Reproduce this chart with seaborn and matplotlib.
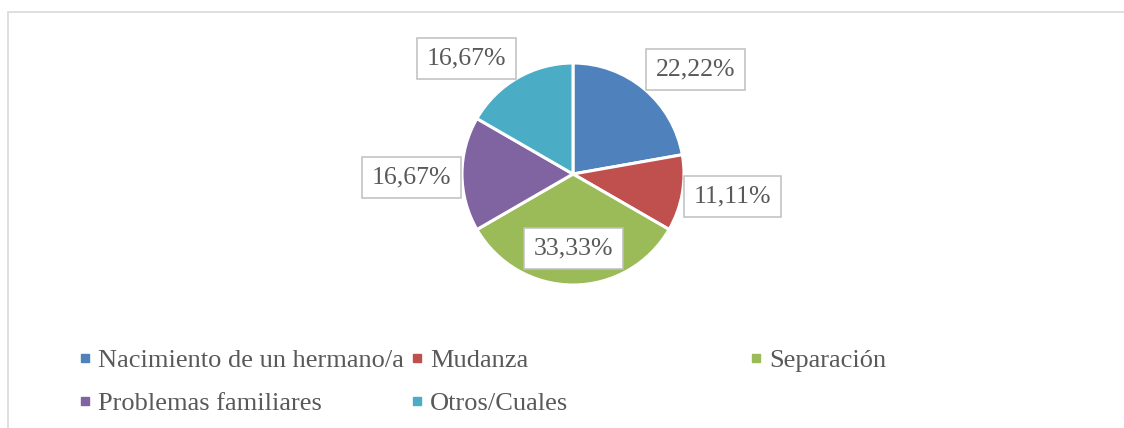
import numpy as np
import matplotlib
matplotlib.use("Agg")
import matplotlib.pyplot as plt
from matplotlib.lines import Line2D
from matplotlib.patches import Rectangle
import seaborn as sns

# data
categorias = ["Nacimiento de un hermano/a", "Mudanza", "Separación",
              "Problemas familiares", "Otros/Cuales"]
porcentajes = [22.22, 11.11, 33.33, 16.67, 16.67]
etiquetas = ["22,22%", "11,11%", "33,33%", "16,67%", "16,67%"]
colores = ["#4F81BD", "#C0504D", "#9BBB59", "#8064A2", "#4BACC6"]
ubicacion = ["out", "out", "in", "out", "out"]

sns.set_theme(style="white")
plt.rcParams["font.family"] = ["Liberation Serif", "DejaVu Serif"]
gris = "#595959"

W, H = 1124, 428
fig = plt.figure(figsize=(W / 100, H / 100), dpi=100)

# outer chart frame (cut off at right and bottom like the reference)
fig.add_artist(Rectangle((8 / W, -0.2), 1.2, (H - 12) / H + 0.2,
                         transform=fig.transFigure, fill=False,
                         edgecolor="#D9D9D9", linewidth=1.2))

# pie axes
cx, cy, r = 573, 174, 111
ax = fig.add_axes([(cx - r) / W, (H - cy - r) / H, 2 * r / W, 2 * r / H])
wedges, _ = ax.pie(porcentajes, colors=colores, startangle=90,
                   counterclock=False, radius=1,
                   wedgeprops=dict(edgecolor="white", linewidth=2.2))
ax.set_xlim(-1, 1)
ax.set_ylim(-1, 1)
ax.set_aspect("equal")
ax.axis("off")

bbox = dict(boxstyle="square,pad=0.38", facecolor="white",
            edgecolor="#BFBFBF", linewidth=1.1)
for w, txt, loc in zip(wedges, etiquetas, ubicacion):
    ang = np.deg2rad((w.theta1 + w.theta2) / 2)
    c, s = np.cos(ang), np.sin(ang)
    if loc == "in":
        ax.text(0.67 * c, 0.67 * s, txt, ha="center", va="center",
                fontsize=18.5, color=gris, bbox=bbox, clip_on=False)
        continue
    ha = "left" if c > 0.3 else ("right" if c < -0.3 else "center")
    va = "bottom" if s > 0.3 else ("top" if s < -0.3 else "center")
    dx = 8 if ha == "left" else (-8 if ha == "right" else 0)
    dy = 6 if va == "bottom" else (-7 if va == "top" else -2.5)
    ax.annotate(txt, (c, s), xytext=(dx, dy), textcoords="offset points",
                ha=ha, va=va, fontsize=18.5, color=gris, bbox=bbox,
                annotation_clip=False)

def handle(col):
    return Line2D([], [], linestyle="none", marker="s", markersize=5.8,
                  markerfacecolor=col, markeredgecolor=col)

leg_kw = dict(frameon=False, fontsize=19, labelcolor=gris,
              handlelength=0.6, handletextpad=0.2, labelspacing=0.72,
              borderpad=0, borderaxespad=0)

# first two legend columns
orden = [0, 3, 1, 4]
leg1 = fig.legend([handle(colores[i]) for i in orden],
                  [categorias[i] for i in orden],
                  ncol=2, columnspacing=0.2,
                  loc="upper left", bbox_to_anchor=(77 / W, 1 - 349 / H),
                  **leg_kw)
# third column
leg2 = fig.legend([handle(colores[2])], [categorias[2]],
                  loc="upper left", bbox_to_anchor=(748 / W, 1 - 349 / H),
                  **leg_kw)

fig.savefig("out.png", dpi=100)
